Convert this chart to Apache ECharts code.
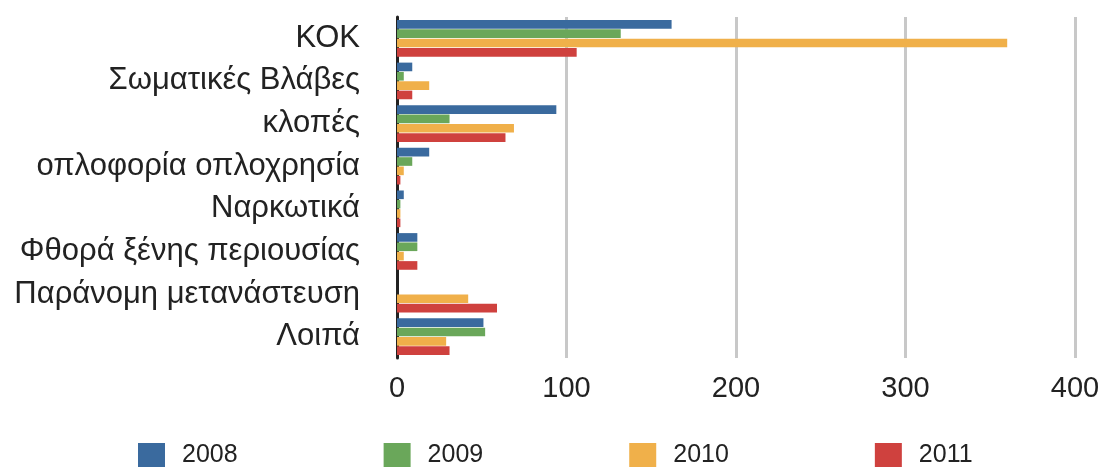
<!DOCTYPE html>
<html>
<head>
<meta charset="utf-8">
<script src="https://cdn.jsdelivr.net/npm/echarts@6/dist/echarts.min.js"></script>
<style>
  html, body { margin: 0; padding: 0; background: #fff; }
  #chart { width: 1104px; height: 467px; }
</style>
</head>
<body>
<div id="chart"></div>
<script>
// categories top to bottom
const categories = ['ΚΟΚ', 'Σωματικές Βλάβες', 'κλοπές', 'οπλοφορία οπλοχρησία', 'Ναρκωτικά', 'Φθορά ξένης περιουσίας', 'Παράνομη μετανάστευση', 'Λοιπά'];
const years = ['2008', '2009', '2010', '2011'];
const values2008 = [162, 9, 94, 19, 4, 12, 0, 51];
const values2009 = [132, 4, 31, 9, 2, 12, 0, 52];
const values2010 = [360, 19, 69, 4, 2, 4, 42, 29];
const values2011 = [106, 9, 64, 2, 2, 12, 59, 31];
const xTicks = [0, 100, 200, 300, 400];

const colors = ['#3a6a9e', '#6aa75a', '#f0b04a', '#cf413e'];
const allValues = [values2008, values2009, values2010, values2011];

let chart = echarts.init(document.getElementById('chart'));
let option = {
  animation: false,
  textStyle: { fontFamily: 'Liberation Sans' },
  legend: {
    top: 443,
    left: 138,
    padding: 0,
    itemWidth: 27,
    itemHeight: 25,
    itemGap: 146,
    icon: 'rect',
    textStyle: { fontSize: 25, color: '#222', fontFamily: 'Liberation Sans', padding: [0, 0, 0, 12] },
    data: years
  },
  grid: { left: 397, right: 29, top: 17, bottom: 109 },
  xAxis: {
    type: 'value',
    min: xTicks[0],
    max: xTicks[xTicks.length - 1],
    interval: 100,
    axisLine: { show: false },
    axisTick: { show: false },
    axisLabel: { fontSize: 29, color: '#222', margin: 16 },
    splitLine: { lineStyle: { color: '#c8c8c8', width: 3 } }
  },
  yAxis: {
    type: 'category',
    inverse: true,
    data: categories,
    axisLine: { lineStyle: { color: '#222', width: 3 } },
    axisTick: { show: false },
    axisLabel: { fontSize: 31, color: '#222', margin: 37 }
  },
  series: years.map(function (y, i) {
    return {
      name: y,
      type: 'bar',
      data: allValues[i],
      barGap: '8%',
      barCategoryGap: '14%',
      itemStyle: { color: colors[i] }
    };
  })
};
chart.setOption(option);
</script>
</body>
</html>
